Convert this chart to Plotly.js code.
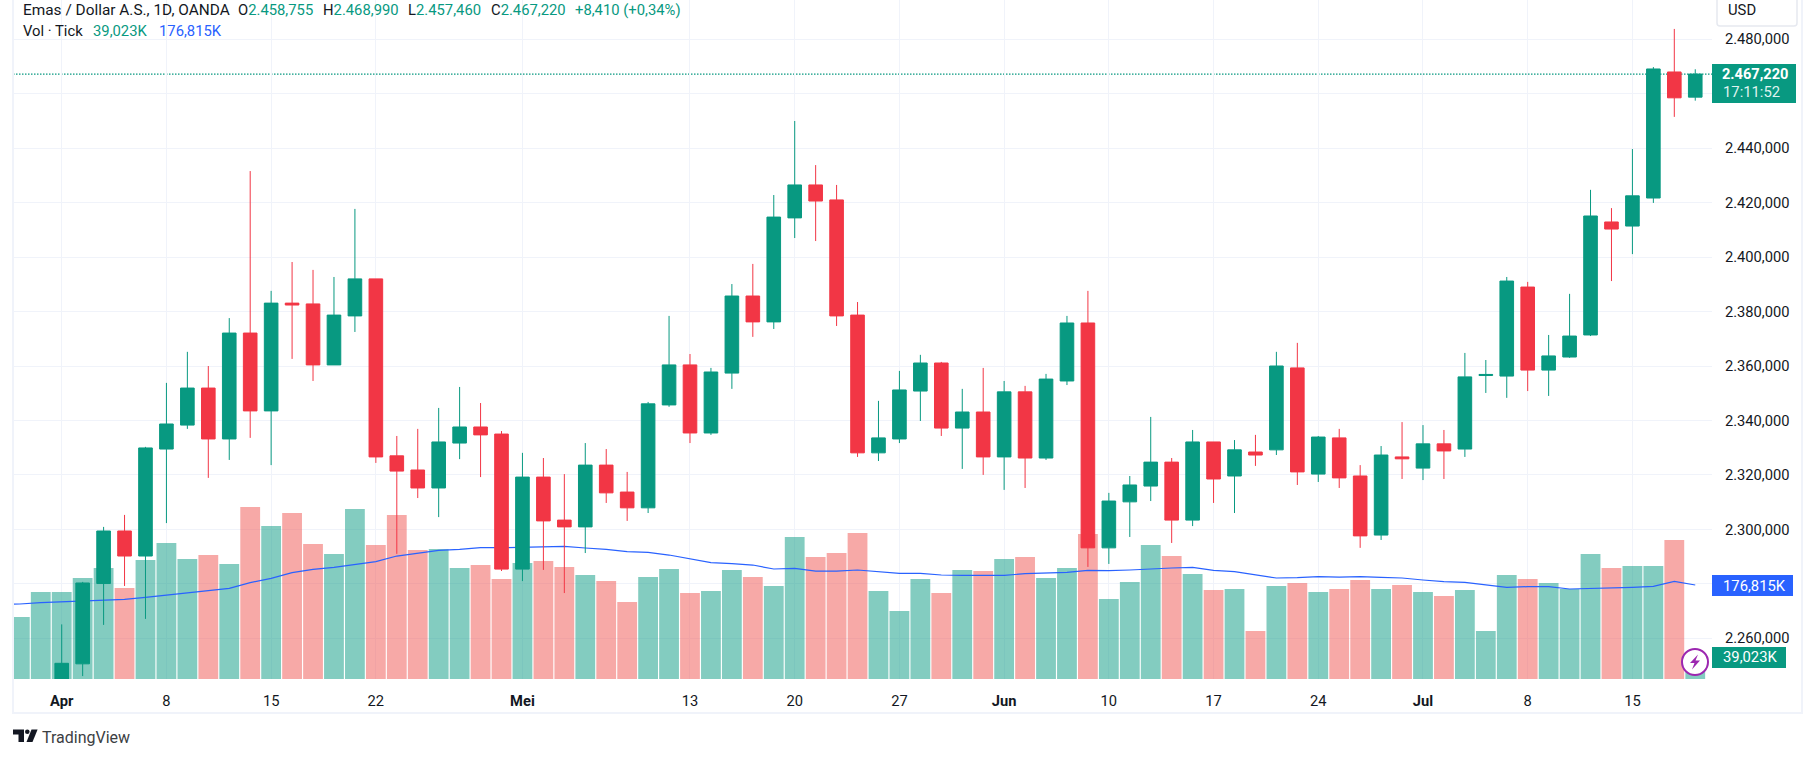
<!DOCTYPE html>
<html>
<head>
<meta charset="utf-8">
<script src="https://cdn.plot.ly/plotly-3.0.1.min.js"></script>
<style>
  html, body { margin: 0; padding: 0; background: #fff; }
  #chart { width: 1815px; height: 758px; }
</style>
</head>
<body>
<div id="chart"></div>
<script>
// prices in thousands, one row per session, bar number 0 = 1 Apr
var openPrice = [2232,2250.6,2280.1,2299.4,2290.2,2329.5,2338.3,2351.9,2333.2,2372.1,2343.5,2383.1,2382.8,2360.4,2378.4,2392,2327,2321.8,2315.2,2331.7,2337.6,2335,2285.4,2319.2,2303.4,2300.9,2323.6,2313.7,2307.9,2345.7,2360.4,2335.4,2357.4,2385.7,2376.2,2414.4,2426.5,2421,2378.7,2328.1,2333.2,2350.8,2361.1,2337.2,2343.1,2326.6,2350.5,2326.2,2354.5,2375.8,2293.2,2310.1,2315.9,2324.7,2303.4,2332.1,2319.6,2328.4,2329.2,2359.3,2320.3,2333.6,2319.6,2297.9,2326.6,2322.5,2331.4,2329.5,2356.5,2356.3,2389,2358.5,2363.3,2371.4,2412.9,2411.4,2421.7,2468,2458.755];
var highPrice = [2265.1,2280.7,2300.9,2305.3,2330.3,2353.8,2365.2,2360,2377.6,2431.6,2387.6,2398.2,2395.3,2392.7,2417.7,2392,2334.3,2336.9,2344.6,2352.3,2346.4,2336.1,2328.1,2326.2,2320.3,2331.7,2329.5,2321.1,2346.8,2378.4,2364.4,2359.3,2390.1,2397.5,2422.8,2450,2433.8,2426.5,2383.5,2347.2,2358.2,2364.1,2361.5,2351.6,2359.3,2354.5,2352.7,2357.1,2378.4,2387.6,2313.4,2319.6,2341.3,2326.2,2336.5,2332.1,2332.8,2334.7,2365.2,2368.5,2334.3,2336.9,2323.6,2330.6,2339.4,2338.3,2336.5,2364.8,2362.2,2392.7,2390.9,2371.4,2386.5,2424.7,2418,2439.7,2469.8,2483.8,2468.99];
var lowPrice = [2228,2246.1,2264.9,2279.2,2267.1,2302.3,2336.9,2318.9,2325.5,2333.6,2323.6,2362.6,2354.5,2360.4,2372.5,2324.4,2291,2311.5,2304.5,2325.8,2319.2,2284.7,2281,2285.1,2276.6,2291.3,2309.7,2303.1,2306,2345,2331.7,2334.7,2351.6,2370.7,2373.6,2407,2405.9,2374.7,2326.6,2325.1,2331.7,2339.8,2334.3,2322.2,2320,2314.5,2315.2,2325.5,2353,2286.2,2287.3,2297.2,2310.4,2295,2301.2,2309.7,2306,2323.3,2327.3,2316.3,2317.4,2315.2,2293.2,2296.1,2318.5,2318.1,2318.5,2326.6,2350.1,2348.3,2350.8,2349,2363,2371,2391.2,2401.1,2419.9,2451.5,2457.46];
var closePrice = [2250.8,2280.3,2299.4,2290.2,2329.9,2338.7,2351.9,2333.2,2372.1,2343.5,2383.1,2382.4,2360.4,2378.7,2392,2326.6,2321.4,2315.2,2332.1,2337.6,2334.7,2285.4,2319.2,2303.1,2300.9,2323.6,2313.4,2307.9,2346.1,2360.4,2335.4,2357.8,2385.7,2376.2,2414.7,2426.5,2420.6,2378.4,2328.1,2333.6,2351.2,2361.1,2337.2,2343.1,2326.6,2350.5,2326.2,2355.2,2375.8,2293.2,2310.4,2316.3,2324.7,2303.4,2332.1,2318.5,2329.2,2327.3,2360,2321.1,2333.9,2318.9,2297.6,2327.3,2325.9,2331.4,2328.8,2356,2356.9,2391.2,2358.5,2363.7,2371,2415.1,2410.3,2422.5,2469.1,2458.5,2467.22];

// volume in thousands, starts two sessions before the candles
var volumeValues = [116.6,163.6,163.6,190,208.8,171.2,223.8,255.8,225.7,233.2,216.3,323.5,287.8,312.2,253.9,235.1,319.7,252,308.5,242.6,244.5,208.8,214.4,188.1,218.2,221.9,210.7,195.6,184.3,144.8,191.8,206.9,161.8,165.5,205,191.8,174.9,267.1,229.5,237,274.6,165.5,127.9,188.1,161.8,205,203.1,225.7,229.5,190,208.8,272.7,150.5,182.4,252,231.3,197.5,167.4,169.3,90.3,174.9,180.6,163.6,169.3,186.2,169.3,176.8,163.6,156.1,167.4,90.3,195.6,188.1,180.6,169.3,235.1,208.8,212.5,212.5,261.4,39.023];
// moving average starts one session earlier, it runs off the left edge
var volumeMA = [140.4,141.1,143.6,145.5,147.3,148.6,149.8,153.6,158,162.4,166.1,170.5,181.2,189.3,200,206.3,210,215.7,220.7,231.3,236.4,242,243.9,247,247,248.3,249.5,249.5,246.4,243.9,239.5,238.2,233.2,225.7,218.8,216.9,214.4,206.9,208.2,203.1,203.1,205,202.5,198.7,198.7,195.6,195,194.4,195,198.1,200,200.6,204.4,203.8,205,207.5,208.8,210,204.4,201.9,195.6,190,190.6,192.5,191.8,192.5,191.2,190,186.2,183.1,181.8,177.4,172.4,173.7,173.7,169.3,169.9,170.5,172.4,174.3,183.7,176.815];

var tickBars = [0,5,10,15,22,30,35,40,45,50,55,60,65,70,75];
var tickLabels = ['<b>Apr</b>','8','15','22','<b>Mei</b>','13','20','27','<b>Jun</b>','10','17','24','<b>Jul</b>','8','15'];
var priceTicks = [2260,2280,2300,2320,2340,2360,2380,2400,2420,2440,2460,2480];
var priceLabels = ['2.260,000','','2.300,000','2.320,000','2.340,000','2.360,000','2.380,000','2.400,000','2.420,000','2.440,000','','2.480,000'];
var lastClose = 2467.22;

var GREEN = '#089981', RED = '#f23645', BLUE = '#2962ff', INK = '#131722';
var FONT = 'Roboto, sans-serif';

var candleBars = closePrice.map(function(v, i) { return i; });
var volumeBars = volumeValues.map(function(v, i) { return i - 2; });
var maBars = volumeMA.map(function(v, i) { return i - 3; });
var volumeColors = volumeValues.map(function(v, i) {
  if (i < 2) return 'rgba(8,153,129,0.5)';
  return closePrice[i - 2] >= openPrice[i - 2] ? 'rgba(8,153,129,0.5)' : 'rgba(239,83,80,0.5)';
});

// pixel positions to paper fractions
var L = 13, T = 0, PW = 1699, PH = 679;
function px(x) { return (x - L) / PW; }
function py(y) { return 1 - (y - T) / PH; }

var traces = [
  {
    type: 'bar', x: volumeBars, y: volumeValues, yaxis: 'y',
    marker: { color: volumeColors, line: { width: 0 } }, hoverinfo: 'skip'
  },
  {
    type: 'scatter', mode: 'lines', x: maBars, y: volumeMA, yaxis: 'y',
    line: { color: BLUE, width: 1.2 }, hoverinfo: 'skip'
  },
  {
    type: 'candlestick', x: candleBars, open: openPrice, high: highPrice, low: lowPrice, close: closePrice,
    yaxis: 'y2', whiskerwidth: 0,
    increasing: { line: { color: GREEN, width: 1 }, fillcolor: GREEN },
    decreasing: { line: { color: RED, width: 1 }, fillcolor: RED }
  }
];

function box(x0, y0, x1, y1, color) {
  return { type: 'rect', xref: 'paper', yref: 'paper', x0: px(x0), x1: px(x1), y0: py(y0), y1: py(y1),
    fillcolor: color, line: { width: 0 } };
}
function poly(points, color) {
  var d = points.map(function(p, i) { return (i ? 'L' : 'M') + px(p[0]) + ',' + py(p[1]); }).join(' ') + ' Z';
  return { type: 'path', xref: 'paper', yref: 'paper', path: d, fillcolor: color, line: { width: 0 } };
}

var shapes = [
  { type: 'line', xref: 'paper', yref: 'y2', x0: 0, x1: 1, y0: lastClose, y1: lastClose, layer: 'below',
    line: { color: GREEN, width: 1.2, dash: '1.5px,1.5px' } },
  // frame
  box(12, 0, 14, 714, '#f0f3fa'),
  box(12, 712, 1803, 714, '#f0f3fa'),
  box(1801, 0, 1803, 714, '#f0f3fa'),
  // currency button
  { type: 'path', xref: 'paper', yref: 'paper', fillcolor: '#fff', line: { color: '#e6e9f0', width: 1.5 },
    path: 'M' + px(1717) + ',' + py(0) + ' L' + px(1717) + ',' + py(23) + ' Q' + px(1717) + ',' + py(26) + ' ' + px(1720) + ',' + py(26) +
      ' L' + px(1794) + ',' + py(26) + ' Q' + px(1797) + ',' + py(26) + ' ' + px(1797) + ',' + py(23) + ' L' + px(1797) + ',' + py(0) },
  // value tags
  box(1712, 64, 1796, 103, GREEN),
  box(1712, 575, 1793, 596, BLUE),
  box(1712, 647, 1786, 668, GREEN),
  // lightning badge
  { type: 'circle', xref: 'paper', yref: 'paper', x0: px(1682), x1: px(1708), y0: py(649), y1: py(675),
    fillcolor: '#fff', line: { color: '#9c27b0', width: 2 } },
  poly([[1698, 654.5], [1690, 663], [1694.5, 663], [1692, 669.5], [1700, 660.5], [1695.5, 660.5]], '#9c27b0'),
  // logo
  poly([[13, 729.5], [24, 729.5], [24, 742], [18.5, 742], [18.5, 734.5], [13, 734.5]], '#131722'),
  { type: 'circle', xref: 'paper', yref: 'paper', x0: px(25), x1: px(29.6), y0: py(729.5), y1: py(734.1), fillcolor: '#131722', line: { width: 0 } },
  poly([[31.5, 729.5], [37.6, 729.5], [32.5, 742], [26.5, 742]], '#131722')
];

function label(text, x, y, color, size, anchor) {
  return { xref: 'paper', yref: 'paper', x: px(x), y: py(y), text: text, showarrow: false,
    xanchor: anchor || 'left', yanchor: 'middle', align: 'left',
    font: { family: FONT, size: size || 14.8, color: color || INK } };
}
function ohlc(letter, value) {
  return letter + '<span style="color:' + GREEN + '">' + value + '</span>';
}

var annotations = [
  label('Emas / Dollar A.S., 1D, OANDA', 20.5, 10, INK, 15.4),
  label(ohlc('O', '2.458,755'), 236, 10),
  label(ohlc('H', '2.468,990'), 321, 10),
  label(ohlc('L', '2.457,460'), 406, 10),
  label(ohlc('C', '2.467,220'), 488.5, 10),
  label('+8,410 (+0,34%)', 572.5, 10, GREEN),
  label('Vol · Tick', 20.5, 31),
  label('39,023K', 91, 31, GREEN),
  label('176,815K', 157, 31, BLUE),
  label('USD', 1725.5, 10.5),
  label('<b>2.467,220</b>', 1720.5, 74, '#fff', 14.6),
  label('17:11:52', 1721, 92.5, '#dff3ef', 14.8),
  label('176,815K', 1721, 585.5, '#fff', 14.8),
  label('39,023K', 1721, 657, '#fff', 14.8),
  label('TradingView', 39.5, 737, '#3c4043', 16)
];

var layout = {
  width: 1815, height: 758,
  margin: { l: L, r: 1815 - L - PW, t: T, b: 758 - PH },
  paper_bgcolor: '#fff', plot_bgcolor: '#fff',
  showlegend: false, hovermode: false, dragmode: false,
  bargap: 0.055, boxgap: 0.35, boxgroupgap: 0,
  font: { family: FONT, size: 14, color: INK },
  xaxis: {
    range: [-2.326, 78.8], tickmode: 'array', tickvals: tickBars, ticktext: tickLabels,
    showgrid: true, gridcolor: '#f0f3fa', gridwidth: 1, zeroline: false, showline: false,
    ticks: 'outside', ticklen: 8, tickcolor: 'rgba(0,0,0,0)',
    rangeslider: { visible: false }, tickfont: { family: FONT, size: 14.7, color: INK }
  },
  yaxis: {
    range: [0, 1277.3], showgrid: false, zeroline: false, showticklabels: false, ticks: '', showline: false
  },
  yaxis2: {
    overlaying: 'y', side: 'right', range: [2245.033, 2494.435], tickmode: 'array',
    tickvals: priceTicks, ticktext: priceLabels,
    showgrid: true, gridcolor: '#f0f3fa', gridwidth: 1, zeroline: false, showline: false,
    ticks: 'outside', ticklen: 9, tickcolor: 'rgba(0,0,0,0)',
    tickfont: { family: FONT, size: 14.7, color: INK }
  },
  shapes: shapes,
  annotations: annotations
};

Plotly.newPlot('chart', traces, layout, { displayModeBar: false, staticPlot: true });
</script>
</body>
</html>
